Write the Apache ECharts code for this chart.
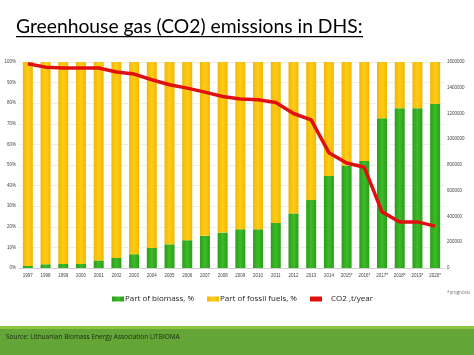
<!DOCTYPE html>
<html>
<head>
<meta charset="utf-8">
<script src="https://cdn.jsdelivr.net/npm/echarts@6/dist/echarts.min.js"></script>
<style>html,body{margin:0;padding:0;background:#fff}#c{width:474px;height:355px}</style>
</head>
<body>
<div id="c"></div>
<script>
const years = ['1997','1998','1999','2000','2001','2002','2003','2004','2005','2006','2007','2008','2009','2010','2011','2012','2013','2014','2015*','2016*','2017*','2018*','2019*','2020*'];
const biomass = [1,1.8,2,2,3.7,4.9,6.7,9.7,11.5,13.5,15.6,17.2,18.8,18.8,21.9,26.5,33,44.6,49.7,52,72.7,77.6,77.6,79.7];
const fossil = biomass.map(v => +(100 - v).toFixed(1));
const co2 = [1587000,1560000,1553000,1553000,1553000,1522000,1506000,1462000,1423000,1397000,1366000,1332000,1312000,1306000,1285000,1200000,1150000,896000,815000,782000,436000,358000,358000,325000];

const chart = echarts.init(document.getElementById('c'));
const greenGrad = new echarts.graphic.LinearGradient(0,0,1,0,[{offset:0,color:'#2a9e18'},{offset:0.5,color:'#3dbb2a'},{offset:1,color:'#2a9e18'}]);
const yellowGrad = new echarts.graphic.LinearGradient(0,0,1,0,[{offset:0,color:'#f2b800'},{offset:0.5,color:'#ffcc1a'},{offset:1,color:'#f2b800'}]);
chart.setOption({
  animation:false,
  title:{text:'Greenhouse gas (CO2) emissions in DHS:',left:11,top:12,textStyle:{fontFamily:'Lato',fontSize:19.3,fontWeight:'normal',color:'#000'}},
  graphic:[
    {type:'rect',shape:{x:16,y:36,width:347,height:1.2},style:{fill:'#000'}},
    {type:'rect',shape:{x:0,y:326,width:474,height:3},style:{fill:'#8cc63f'}},
    {type:'rect',shape:{x:0,y:329,width:474,height:26},style:{fill:'#63a537'}},
    {type:'text',left:6,top:334,style:{text:'Source: Lithuanian Biomass Energy Association LITBIOMA',fontSize:6.5,fontFamily:'Open Sans',fill:'#1a2a10'}},
    {type:'text',left:447,top:290,style:{text:'*prognosis',fontSize:4.5,fontFamily:'Open Sans',fill:'#777'}}
  ],
  legend:{bottom:47,left:107,itemGap:13,itemWidth:12,itemHeight:5,textStyle:{fontSize:8,fontFamily:'Open Sans',color:'#222',padding:[0,0,0,-4]},
    data:[{name:'Part of biomass, %',icon:'rect'},{name:'Part of fossil fuels, %',icon:'rect'},{name:'CO2 ,t/year',icon:'rect',itemStyle:{color:'#e01010'},textStyle:{padding:[0,0,0,4]}}]},
  grid:{left:19,width:425,top:62,height:206},
  xAxis:{type:'category',data:years,boundaryGap:true,axisLine:{lineStyle:{color:'#d0d0d0'}},axisTick:{show:false},
    axisLabel:{fontSize:4.5,color:'#444',margin:5,interval:0}},
  yAxis:[
    {type:'value',min:0,max:100,interval:10,axisLabel:{fontSize:4.5,color:'#444',formatter:'{value}%',margin:3},splitLine:{lineStyle:{color:'#eeeeee'}},axisLine:{show:false},axisTick:{show:false}},
    {type:'value',min:0,max:1600000,interval:200000,axisLabel:{fontSize:4.5,color:'#444',margin:3,formatter:v=>String(v)},splitLine:{show:false},axisLine:{show:false},axisTick:{show:false}}
  ],
  series:[
    {name:'Part of biomass, %',type:'bar',stack:'s',barWidth:10,data:biomass,itemStyle:{color:greenGrad}},
    {name:'Part of fossil fuels, %',type:'bar',stack:'s',barWidth:10,data:fossil,itemStyle:{color:yellowGrad}},
    {name:'CO2 ,t/year',type:'line',yAxisIndex:1,data:co2,symbol:'none',lineStyle:{color:'#e01010',width:3.5},itemStyle:{color:'#e01010'}}
  ]
});
</script>
</body>
</html>
